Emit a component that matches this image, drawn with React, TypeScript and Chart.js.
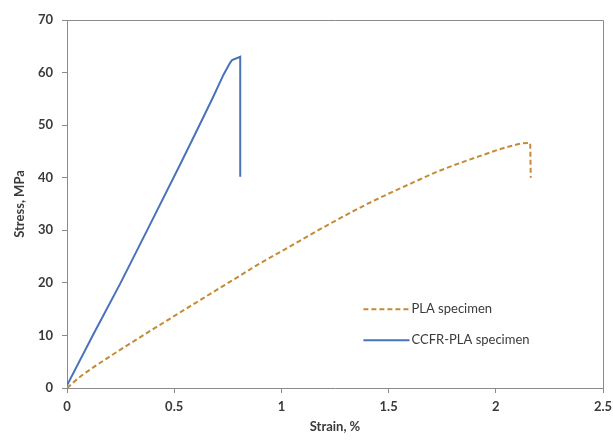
import React, { useEffect, useRef } from "react";
import { Chart, registerables } from "chart.js";

Chart.register(...registerables);

const SERIES_NAMES = ["PLA specimen", "CCFR-PLA specimen"];

const PLA_STRAIN = [0, 0.06, 0.2, 0.39, 0.6, 0.8, 0.9, 1.0, 1.26, 1.42, 1.62, 1.73, 1.96, 2.05, 2.15, 2.16, 2.163];
const PLA_STRESS = [0, 2.1, 6.0, 10.9, 16.2, 21.2, 23.7, 26.0, 32.0, 35.4, 39.2, 41.2, 44.6, 45.8, 46.6, 46.6, 40.0];

const CCFR_STRAIN = [0, 0.12, 0.25, 0.38, 0.53, 0.6, 0.68, 0.73, 0.76, 0.77, 0.808, 0.808];
const CCFR_STRESS = [0.5, 10, 20, 30.5, 42.7, 48.5, 55.2, 59.6, 61.8, 62.4, 63.0, 40.2];

const X_TICKS = [0, 0.5, 1, 1.5, 2, 2.5];
const Y_TICKS = [0, 10, 20, 30, 40, 50, 60, 70];

const X_TITLE = "Strain, %";
const Y_TITLE = "Stress, MPa";

const COLORS = ["#C68A37", "#4A72B8"];
const AXIS = "#8a8a8a";
const TEXT = "#3a3a3a";
const FONT = "Lato, 'Open Sans', sans-serif";

const toPoints = (xs: number[], ys: number[]) => xs.map((x, i) => ({ x, y: ys[i] }));

const boxAndLegend = {
  id: "boxAndLegend",
  afterDraw(chart: any) {
    const { ctx, chartArea } = chart;
    ctx.save();
    ctx.strokeStyle = AXIS;
    ctx.lineWidth = 1;
    ctx.beginPath();
    ctx.moveTo(chartArea.left, chartArea.top + 0.5);
    ctx.lineTo(chartArea.right + 0.5, chartArea.top + 0.5);
    ctx.lineTo(chartArea.right + 0.5, chartArea.bottom);
    ctx.stroke();

    const w = chartArea.right - chartArea.left;
    const h = chartArea.bottom - chartArea.top;
    const x0 = chartArea.left + w * 0.553;
    const len = w * 0.086;
    const rows = [chartArea.top + h * 0.786, chartArea.top + h * 0.87];
    chart.data.datasets.forEach((ds: any, i: number) => {
      const y = rows[i];
      ctx.strokeStyle = ds.borderColor;
      ctx.lineWidth = 2;
      ctx.setLineDash(ds.borderDash || []);
      ctx.beginPath();
      ctx.moveTo(x0, y);
      ctx.lineTo(x0 + len, y);
      ctx.stroke();
      ctx.setLineDash([]);
      ctx.fillStyle = TEXT;
      ctx.font = `13px ${FONT}`;
      ctx.textBaseline = "middle";
      ctx.textAlign = "left";
      ctx.fillText(ds.label, x0 + len + 2, y);
    });
    ctx.restore();
  },
};

export default function App() {
  const ref = useRef<HTMLCanvasElement>(null);
  useEffect(() => {
    if (!ref.current) return;
    const chart = new Chart(ref.current, {
      type: "line",
      data: {
        datasets: [
          {
            label: SERIES_NAMES[0],
            data: toPoints(PLA_STRAIN, PLA_STRESS),
            borderColor: COLORS[0],
            backgroundColor: COLORS[0],
            borderWidth: 2,
            borderDash: [5, 3],
            pointRadius: 0,
            cubicInterpolationMode: "monotone",
          },
          {
            label: SERIES_NAMES[1],
            data: toPoints(CCFR_STRAIN, CCFR_STRESS),
            borderColor: COLORS[1],
            backgroundColor: COLORS[1],
            borderWidth: 2,
            pointRadius: 0,
            tension: 0,
          },
        ],
      },
      options: {
        animation: false,
        responsive: false,
        layout: { padding: { top: 20, right: 10, left: 0, bottom: 0 } },
        plugins: { legend: { display: false }, tooltip: { enabled: false } },
        scales: {
          x: {
            type: "linear",
            min: 0,
            max: 2.5,
            afterBuildTicks: (s: any) => {
              s.ticks = X_TICKS.map((v) => ({ value: v }));
            },
            afterFit: (s: any) => {
              s.height = 52;
              s.paddingLeft = 0;
              s.paddingRight = 0;
            },
            ticks: {
              color: TEXT,
              font: { family: FONT, size: 13, weight: "bold" },
              padding: 6,
              maxRotation: 0,
              callback: (v: any) => String(v),
            },
            grid: { drawOnChartArea: false, drawTicks: true, tickLength: 5, tickColor: AXIS },
            border: { display: true, color: AXIS, width: 1 },
            title: {
              display: true,
              text: X_TITLE,
              color: TEXT,
              font: { family: FONT, size: 13, weight: "bold" },
              padding: { top: 0, bottom: 5 },
            },
          },
          y: {
            type: "linear",
            min: 0,
            max: 70,
            afterBuildTicks: (s: any) => {
              s.ticks = Y_TICKS.map((v) => ({ value: v }));
            },
            afterFit: (s: any) => {
              s.width = 67;
              s.paddingTop = 0;
              s.paddingBottom = 0;
            },
            ticks: {
              color: TEXT,
              font: { family: FONT, size: 13, weight: "bold" },
              padding: 9,
              callback: (v: any) => String(v),
            },
            grid: { drawOnChartArea: false, drawTicks: true, tickLength: 5, tickColor: AXIS },
            border: { display: true, color: AXIS, width: 1 },
            title: {
              display: true,
              text: Y_TITLE,
              color: TEXT,
              font: { family: FONT, size: 13, weight: "bold" },
              padding: { top: 12, bottom: 0 },
            },
          },
        },
      },
      plugins: [boxAndLegend],
    } as any);
    return () => chart.destroy();
  }, []);
  return (
    <div style={{ position: "fixed", left: 0, top: 0, width: 613, height: 440, background: "#fff" }}>
      <canvas ref={ref} width={613} height={440} />
    </div>
  );
}
